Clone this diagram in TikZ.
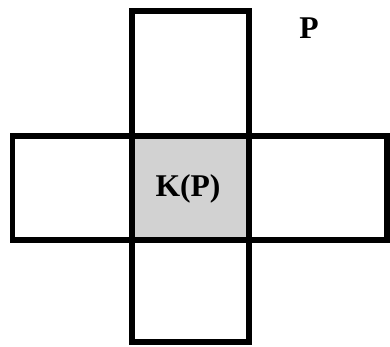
\documentclass[tikz,border=0pt]{standalone}
\usepackage{fontspec}
\setmainfont{Liberation Serif}
\usetikzlibrary{positioning}
\begin{document}
\begin{tikzpicture}[x=0.02cm, y=-0.02cm,
    bar/.style={draw=black, line width=0.12cm},
    core/.style={fill=gray!35},
    lbl/.style={font=\fontsize{18}{21}\selectfont\bfseries, anchor=base, inner sep=0pt}]
  % page frame (390 x 347)
  \useasboundingbox (0,0) rectangle (390,347);

  % shaded centre cell
  \fill[core] (132,136.5) rectangle (249.5,240);

  % vertical and horizontal bars of the cross
  \draw[bar] (132,11) rectangle (249.5,342);
  \draw[bar] (12.5,136.5) rectangle (387,240);

  % labels
  \node[lbl] (kp) at (188,197) {K(P)};
  \node[lbl] (p) at (309,39) {P};
\end{tikzpicture}
\end{document}
